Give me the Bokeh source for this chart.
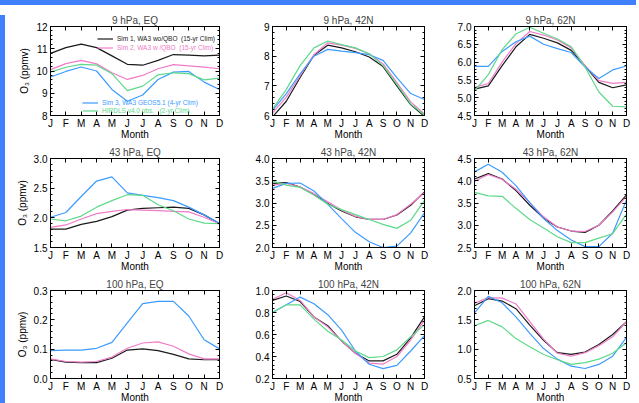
from bokeh.plotting import figure
from bokeh.layouts import gridplot, column, row
from bokeh.models import (Range1d, FixedTicker, LinearAxis, PrintfTickFormatter,
                          Legend, LegendItem, Div)
from bokeh.embed import file_html
from bokeh.resources import INLINE

# ---------------- data ----------------
months = ["J", "F", "M", "A", "M", "J", "J", "A", "S", "O", "N", "D"]
month_idx = list(range(12))

series_names = ["Sim 1, WA3 wo/QBO  (15-yr Clim)",
                "Sim 2, WA3 w /QBO  (15-yr Clim)",
                "Sim 3, WA3 GEOS5.1 (4-yr Clim)",
                "HIRDLS v4.0 obs.   (2-yr Clim)"]
series_colors = ["#1a1a1a", "#f07cc8", "#3d9bff", "#5ed98a"]

titles = ["9 hPa, EQ", "9 hPa, 42N", "9 hPa, 62N",
          "43 hPa, EQ", "43 hPa, 42N", "43 hPa, 62N",
          "100 hPa, EQ", "100 hPa, 42N", "100 hPa, 62N"]

y_ranges = [(8, 12), (6, 9), (4.5, 7.0),
            (1.5, 3.0), (2.0, 4.0), (2.5, 4.5),
            (0.0, 0.3), (0.2, 1.0), (0.5, 2.0)]
y_ticks = [[8, 9, 10, 11, 12], [6, 7, 8, 9], [4.5, 5.0, 5.5, 6.0, 6.5, 7.0],
           [1.5, 2.0, 2.5, 3.0], [2.0, 2.5, 3.0, 3.5, 4.0], [2.5, 3.0, 3.5, 4.0, 4.5],
           [0.0, 0.1, 0.2, 0.3], [0.2, 0.4, 0.6, 0.8, 1.0], [0.5, 1.0, 1.5, 2.0]]
y_formats = ["%d", "%d", "%.1f", "%.1f", "%.1f", "%.1f", "%.1f", "%.1f", "%.1f"]

# 9 hPa
sim1_9eq = [10.79, 11.05, 11.21, 11.05, 10.68, 10.30, 10.26, 10.48, 10.74, 10.71, 10.68, 10.71]
sim2_9eq = [10.06, 10.33, 10.48, 10.32, 9.92, 9.62, 9.80, 10.10, 10.29, 10.23, 10.17, 10.10]
sim3_9eq = [9.73, 9.98, 10.18, 10.00, 9.17, 8.64, 8.92, 9.62, 9.95, 9.98, 9.50, 9.17]
obs_9eq = [9.95, 10.17, 10.30, 10.26, 9.88, 9.12, 9.32, 9.83, 9.92, 9.88, 9.60, 9.68]

sim1_9n42 = [5.95, 6.48, 7.28, 8.03, 8.37, 8.28, 8.15, 7.97, 7.65, 7.00, 6.37, 5.97]
sim2_9n42 = [6.08, 6.62, 7.34, 8.05, 8.45, 8.37, 8.26, 8.08, 7.74, 7.11, 6.46, 6.05]
sim3_9n42 = [6.17, 6.74, 7.40, 8.00, 8.23, 8.17, 8.12, 8.05, 7.86, 7.28, 6.74, 6.54]
obs_9n42 = [6.22, 6.88, 7.68, 8.28, 8.51, 8.39, 8.28, 8.08, 7.68, 7.05, 6.39, 6.02]

sim1_9n62 = [5.24, 5.33, 5.90, 6.43, 6.78, 6.67, 6.54, 6.33, 5.89, 5.43, 5.28, 5.36]
sim2_9n62 = [5.29, 5.40, 6.00, 6.52, 6.86, 6.76, 6.62, 6.40, 5.90, 5.48, 5.40, 5.43]
sim3_9n62 = [5.88, 5.88, 6.30, 6.57, 6.73, 6.50, 6.38, 6.27, 5.86, 5.54, 5.78, 5.89]
obs_9n62 = [5.19, 5.65, 6.35, 6.79, 6.98, 6.81, 6.65, 6.43, 5.86, 5.16, 4.76, 4.74]

# 43 hPa
sim1_43eq = [1.81, 1.81, 1.89, 1.94, 2.02, 2.13, 2.16, 2.17, 2.18, 2.16, 2.05, 1.90]
sim2_43eq = [1.84, 1.88, 1.98, 2.07, 2.11, 2.14, 2.13, 2.12, 2.11, 2.10, 2.01, 1.90]
sim3_43eq = [2.01, 2.09, 2.36, 2.62, 2.69, 2.42, 2.38, 2.34, 2.29, 2.18, 2.05, 1.91]
obs_43eq = [1.98, 1.95, 2.03, 2.18, 2.29, 2.39, 2.38, 2.22, 2.12, 1.98, 1.91, 1.90]

sim1_43n42 = [3.44, 3.46, 3.36, 3.19, 2.99, 2.82, 2.69, 2.63, 2.63, 2.73, 2.95, 3.25]
sim2_43n42 = [3.40, 3.44, 3.36, 3.21, 3.03, 2.84, 2.70, 2.63, 2.63, 2.74, 2.97, 3.23]
sim3_43n42 = [3.33, 3.44, 3.45, 3.27, 2.97, 2.65, 2.34, 2.13, 2.00, 2.03, 2.33, 2.78]
obs_43n42 = [3.49, 3.40, 3.35, 3.18, 2.97, 2.85, 2.74, 2.63, 2.52, 2.43, 2.61, 3.06]

sim1_43n62 = [4.04, 4.16, 4.04, 3.78, 3.45, 3.16, 2.96, 2.87, 2.84, 3.00, 3.32, 3.68]
sim2_43n62 = [3.99, 4.14, 4.03, 3.81, 3.51, 3.19, 2.96, 2.87, 2.86, 3.00, 3.30, 3.65]
sim3_43n62 = [4.20, 4.37, 4.19, 3.89, 3.51, 3.15, 2.88, 2.67, 2.52, 2.52, 2.82, 3.57]
obs_43n62 = [3.74, 3.66, 3.65, 3.38, 3.13, 2.94, 2.74, 2.61, 2.61, 2.71, 2.81, 3.25]

# 100 hPa
sim1_100eq = [0.065, 0.056, 0.054, 0.054, 0.069, 0.097, 0.101, 0.095, 0.082, 0.067, 0.064, 0.064]
sim2_100eq = [0.067, 0.058, 0.056, 0.058, 0.073, 0.103, 0.121, 0.125, 0.110, 0.084, 0.067, 0.067]
sim3_100eq = [0.095, 0.097, 0.097, 0.103, 0.123, 0.190, 0.255, 0.263, 0.263, 0.213, 0.132, 0.101]
obs_100eq = None  # no HIRDLS curve in this panel

sim1_100n42 = [0.91, 0.95, 0.90, 0.76, 0.68, 0.54, 0.43, 0.36, 0.36, 0.42, 0.57, 0.76]
sim2_100n42 = [0.92, 0.98, 0.91, 0.76, 0.67, 0.54, 0.43, 0.34, 0.33, 0.40, 0.55, 0.73]
sim3_100n42 = [0.80, 0.87, 0.94, 0.88, 0.78, 0.64, 0.45, 0.33, 0.29, 0.32, 0.45, 0.59]
obs_100n42 = [0.80, 0.87, 0.87, 0.74, 0.63, 0.55, 0.45, 0.39, 0.40, 0.46, 0.58, 0.69]

sim1_100n62 = [1.74, 1.86, 1.82, 1.69, 1.41, 1.15, 0.94, 0.91, 0.95, 1.08, 1.25, 1.47]
sim2_100n62 = [1.78, 1.88, 1.87, 1.77, 1.47, 1.17, 0.93, 0.88, 0.94, 1.06, 1.21, 1.47]
sim3_100n62 = [1.62, 1.90, 1.79, 1.55, 1.27, 1.01, 0.83, 0.71, 0.67, 0.74, 0.88, 1.20]
obs_100n62 = [1.40, 1.49, 1.38, 1.18, 1.04, 0.91, 0.82, 0.74, 0.77, 0.83, 0.93, 1.11]

panel_series = [
    [sim1_9eq, sim2_9eq, sim3_9eq, obs_9eq],
    [sim1_9n42, sim2_9n42, sim3_9n42, obs_9n42],
    [sim1_9n62, sim2_9n62, sim3_9n62, obs_9n62],
    [sim1_43eq, sim2_43eq, sim3_43eq, obs_43eq],
    [sim1_43n42, sim2_43n42, sim3_43n42, obs_43n42],
    [sim1_43n62, sim2_43n62, sim3_43n62, obs_43n62],
    [sim1_100eq, sim2_100eq, sim3_100eq, obs_100eq],
    [sim1_100n42, sim2_100n42, sim3_100n42, obs_100n42],
    [sim1_100n62, sim2_100n62, sim3_100n62, obs_100n62],
]

# ---------------- layout ----------------
FONT = "Liberation Sans"
BAND = "#4080fa"
BAND_TOP = 8
col_left = [40, 35, 32]
col_frame = [169, 152, 152]
col_right = [18, 18, 15]
row_top = [16, 16, 16]
row_frame = [89, 89, 88]
row_bottom = [27, 27, 25]


def style_axis(ax, size="10px"):
    ax.axis_line_color = "black"
    ax.major_tick_line_color = "black"
    ax.minor_tick_line_color = "black"
    ax.major_tick_in = 4
    ax.major_tick_out = 0
    ax.minor_tick_in = 2
    ax.minor_tick_out = 0
    ax.major_label_text_font = FONT
    ax.major_label_text_font_size = size
    ax.major_label_text_color = "black"
    ax.axis_label_text_font = FONT
    ax.axis_label_text_font_size = "10px"
    ax.axis_label_text_font_style = "normal"
    ax.axis_label_text_color = "black"


figs = []
for i in range(9):
    r, c = divmod(i, 3)
    lo, hi = y_ranges[i]
    p = figure(frame_width=col_frame[c], frame_height=row_frame[r],
               min_border_left=col_left[c], min_border_right=col_right[c],
               min_border_top=row_top[r], min_border_bottom=row_bottom[r],
               x_range=Range1d(0, 11), y_range=Range1d(lo, hi),
               output_backend="svg", toolbar_location=None, tools="",
               background_fill_color="white", border_fill_color="white")
    p.grid.visible = False
    p.outline_line_color = "black"
    p.outline_line_width = 1

    p.title.text = titles[i]
    p.title.align = "center"
    p.title.text_font = FONT
    p.title.text_font_size = "10px"
    p.title.text_font_style = "normal"
    p.title.standoff = 1
    p.title.offset = 0

    xt = FixedTicker(ticks=month_idx, minor_ticks=[])
    yt_minor = []
    step = (y_ticks[i][1] - y_ticks[i][0]) / 5.0
    v = lo
    while v <= hi + 1e-9:
        yt_minor.append(round(v, 6))
        v += step
    yt = FixedTicker(ticks=y_ticks[i], minor_ticks=yt_minor)

    xa = p.xaxis[0]
    xa.ticker = xt
    xa.major_label_overrides = {k: months[k] for k in month_idx}
    xa.axis_label = "Month"
    xa.axis_label_standoff = -3
    xa.major_label_standoff = 2
    style_axis(xa)

    ya = p.yaxis[0]
    ya.ticker = yt
    ya.formatter = PrintfTickFormatter(format=y_formats[i])
    ya.major_label_standoff = 3
    if c == 0:
        ya.axis_label = "O\u2083 (ppmv)"
        ya.axis_label_standoff = 3
    style_axis(ya)

    # mirrored axes without labels
    top = LinearAxis(ticker=FixedTicker(ticks=month_idx, minor_ticks=[]),
                     major_label_overrides={k: "" for k in month_idx},
                     major_label_standoff=0)
    style_axis(top, "1px")
    top.major_label_text_alpha = 0
    p.add_layout(top, "above")
    right = LinearAxis(ticker=FixedTicker(ticks=y_ticks[i], minor_ticks=yt_minor),
                       major_label_overrides={t: "" for t in y_ticks[i]},
                       major_label_standoff=0)
    style_axis(right, "1px")
    right.major_label_text_alpha = 0
    p.add_layout(right, "right")

    renderers = []
    for s, (vals, col) in enumerate(zip(panel_series[i], series_colors)):
        if vals is None:
            renderers.append(None)
            continue
        rr = p.line(month_idx, vals, line_color=col, line_width=1.2)
        renderers.append(rr)

    if i == 0:
        # legend entries: text coloured like its line
        spots = [(47, 73), (47, 64), (32, 9), (32, 1)]
        for s in range(4):
            lg = Legend(items=[LegendItem(label=series_names[s], renderers=[renderers[s]])],
                        location=spots[s], orientation="vertical",
                        background_fill_alpha=0, border_line_alpha=0,
                        padding=0, margin=0, spacing=0,
                        glyph_width=16, glyph_height=7, label_standoff=4,
                        label_height=7, label_text_font=FONT,
                        label_text_font_size="6.5px", label_text_color=series_colors[s])
            p.add_layout(lg, "center")
    figs.append(p)

grid = gridplot([figs[0:3], figs[3:6], figs[6:9]], toolbar_location=None)

total_w = sum(col_left) + sum(col_frame) + sum(col_right)
total_h = sum(row_top) + sum(row_frame) + sum(row_bottom)
band_top = Div(text="", width=total_w + 8, height=BAND_TOP,
               styles={"background-color": BAND})
band_left = Div(text="", width=8, height=total_h,
                styles={"background-color": BAND})
root = column(band_top, row(band_left, grid, spacing=0), spacing=0)
root.styles = {"margin-left": "-8px", "margin-top": "-8px"}

open("out.html", "w").write(file_html(root, INLINE))
